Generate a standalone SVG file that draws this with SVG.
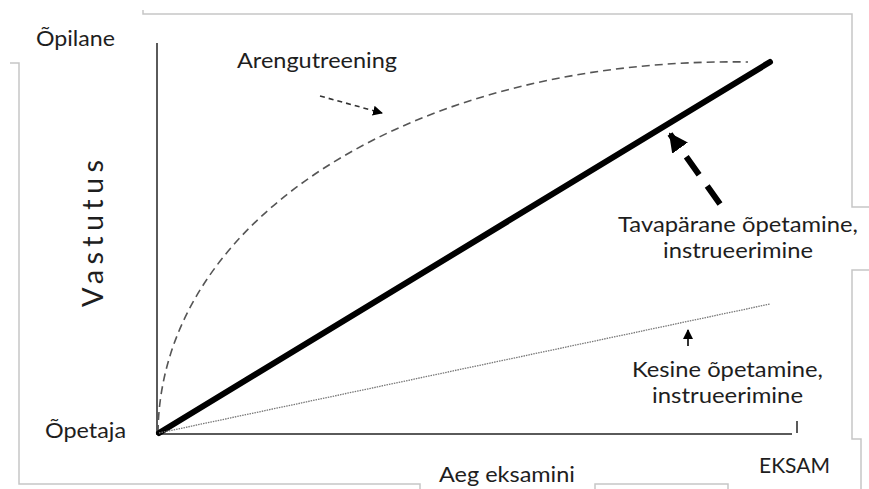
<svg xmlns="http://www.w3.org/2000/svg" width="869" height="489" viewBox="0 0 869 489">
  <style>
    .frame { fill: none; stroke: #c6c6c6; stroke-width: 1.5; }
    .axis { fill: none; stroke: #5a5a5a; stroke-width: 2; }
    .lbl { font-family: Lato, "Open Sans", "Liberation Sans", sans-serif; font-size: 21.6px; fill: #1e1e1e; }
    .axisTitle { font-size: 29px; }
  </style>
  <defs>
    <marker id="headSmall" viewBox="0 0 10 10" refX="9" refY="5" markerWidth="10" markerHeight="10" markerUnits="userSpaceOnUse" orient="auto">
      <path d="M0,0 L10,5 L0,10 z" fill="#000"/>
    </marker>
    <marker id="headBig" viewBox="0 0 10 10" refX="9" refY="5" markerWidth="3.2" markerHeight="3.4" orient="auto">
      <path d="M0,0 L10,5 L0,10 z" fill="#000"/>
    </marker>
  </defs>

  <!-- light frame fragments -->
  <g id="frame">
    <path class="frame" d="M143,10 V14 H852 V207 H869"/>
    <path class="frame" d="M869,270 H852 V439 H861 V489"/>
    <path class="frame" d="M10,63 H19 V484 H420 V489"/>
    <path class="frame" d="M595,489 V484 H728 V489"/>
  </g>

  <!-- axes -->
  <g id="axes">
    <path class="axis" d="M157,43 V434 H792"/>
    <path class="axis" d="M797,421 V433" stroke-width="1.5"/>
  </g>

  <g id="connectors">
    <!-- development curve -->
    <path d="M158,433 C160,215 420,57 748,62" fill="none" stroke="#555" stroke-width="1.6" stroke-dasharray="8,5"/>
    <!-- regular teaching -->
    <path d="M159,433 L770,62" fill="none" stroke="#000" stroke-width="6" stroke-linecap="round"/>
    <!-- weak teaching -->
    <path d="M159,433 L770,304" fill="none" stroke="#777" stroke-width="1.3" stroke-dasharray="1.5,1"/>
    <!-- pointers -->
    <path d="M320,96 L382,113" fill="none" stroke="#333" stroke-width="1.6" stroke-dasharray="5,4" marker-end="url(#headSmall)"/>
    <path d="M720,204 L670,134" fill="none" stroke="#000" stroke-width="6" stroke-dasharray="22,14" marker-end="url(#headBig)"/>
    <path d="M688,346 L688,330" fill="none" stroke="#000" stroke-width="1.6" marker-end="url(#headSmall)"/>
  </g>

  <g id="labels">
    <text class="lbl" x="36" y="46" textLength="79" lengthAdjust="spacingAndGlyphs">Õpilane</text>
    <text class="lbl" x="237" y="68" textLength="160" lengthAdjust="spacingAndGlyphs">Arengutreening</text>
    <text class="lbl" x="45" y="438" textLength="81" lengthAdjust="spacingAndGlyphs">Õpetaja</text>
    <text class="lbl" x="439" y="482" textLength="136" lengthAdjust="spacingAndGlyphs">Aeg eksamini</text>
    <text class="lbl" x="759" y="473" textLength="71" lengthAdjust="spacingAndGlyphs">EKSAM</text>
    <text class="lbl" x="618" y="232" textLength="240" lengthAdjust="spacingAndGlyphs">Tavapärane õpetamine,</text>
    <text class="lbl" x="663" y="258" textLength="150" lengthAdjust="spacingAndGlyphs">instrueerimine</text>
    <text class="lbl" x="632" y="377" textLength="191" lengthAdjust="spacingAndGlyphs">Kesine õpetamine,</text>
    <text class="lbl" x="652" y="403" textLength="151" lengthAdjust="spacingAndGlyphs">instrueerimine</text>
    <text class="lbl axisTitle" transform="translate(103,307) rotate(-90)" textLength="147" lengthAdjust="spacing">Vastutus</text>
  </g>
</svg>
